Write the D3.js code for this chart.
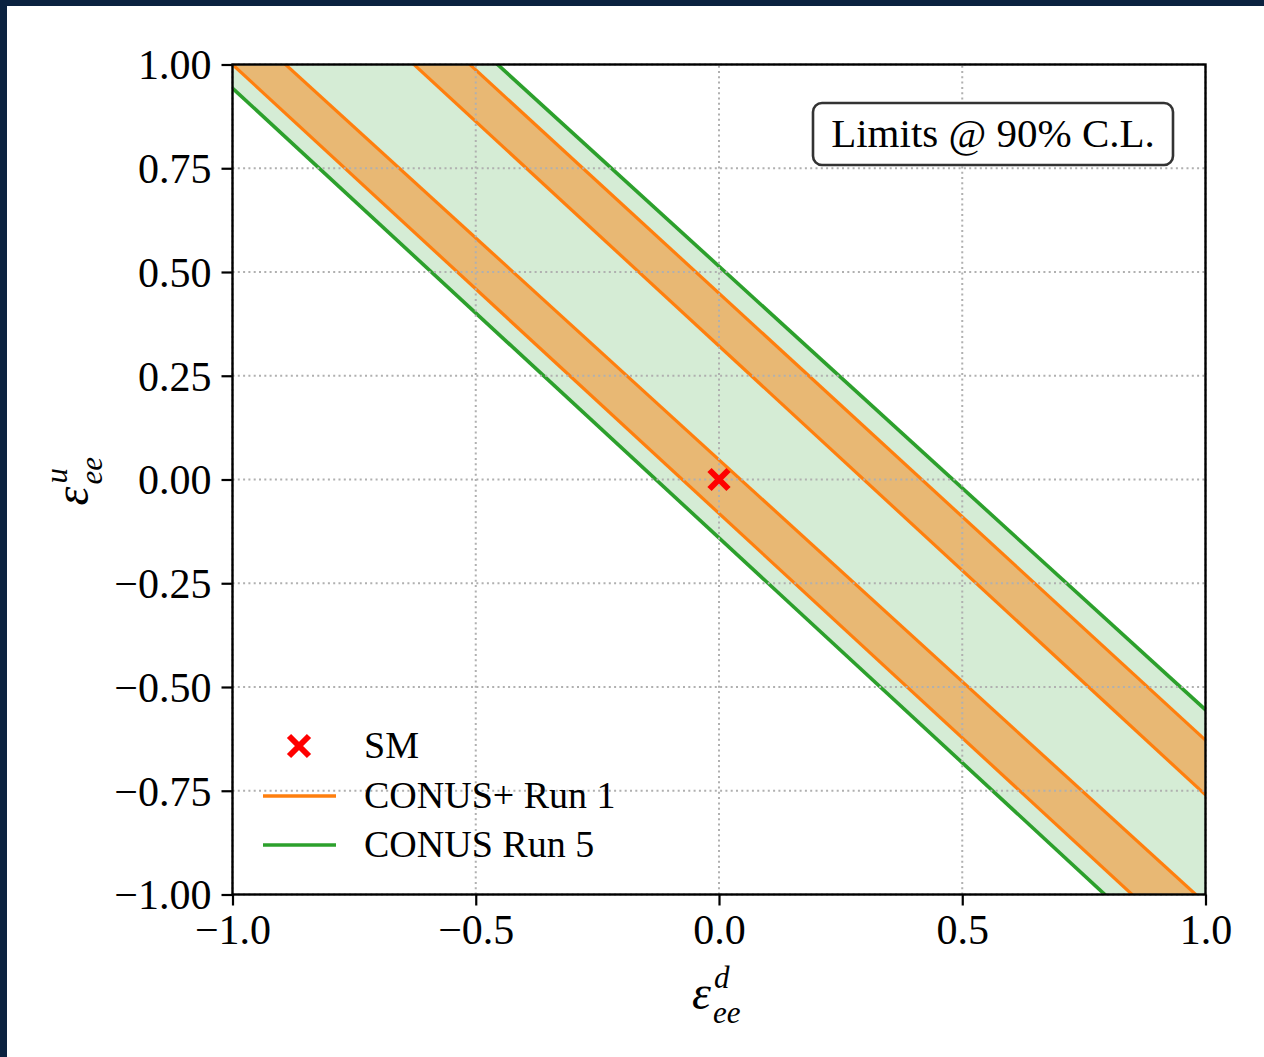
<!DOCTYPE html>
<html><head><meta charset="utf-8">
<script src="https://cdn.jsdelivr.net/npm/d3@7"></script>
<style>
html,body{margin:0;padding:0;background:#0b2240;}
svg{display:block;}
</style></head>
<body>
<svg id="c" width="1264" height="1057"></svg>
<script>
// ---- data ----
const xTicks = [-1.0, -0.5, 0.0, 0.5, 1.0];
const xTickLabels = ["\u22121.0", "\u22120.5", "0.0", "0.5", "1.0"];
const yTicks = [-1.0, -0.75, -0.5, -0.25, 0.0, 0.25, 0.5, 0.75, 1.0];
const yTickLabels = ["\u22121.00", "\u22120.75", "\u22120.50", "\u22120.25", "0.00", "0.25", "0.50", "0.75", "1.00"];
// band edges: each edge as two points [eps_d, eps_u]
const orangeBandLower = [[[-1.0, 1.0], [0.849, -1.0]], [[-0.891, 1.0], [0.980, -1.0]]];
const orangeBandUpper = [[[-0.627, 1.0], [1.0, -0.760]], [[-0.512, 1.0], [1.0, -0.628]]];
const greenBand = [[[-1.0, 0.943], [0.793, -1.0]], [[-0.455, 1.0], [1.0, -0.555]]];
const smPoint = [0.0, 0.0];
const legendLabels = ["SM", "CONUS+ Run 1", "CONUS Run 5"];
const boxText = "Limits @ 90% C.L.";

// ---- drawing ----
const svg = d3.select("#c");
svg.append("rect").attr("x", 7).attr("y", 6).attr("width", 1257).attr("height", 1051).attr("fill", "#fff");

const x = d3.scaleLinear().domain([-1, 1]).range([232.5, 1205.5]);
const y = d3.scaleLinear().domain([-1, 1]).range([894.5, 64.5]);
const FONT = "'Liberation Serif', 'DejaVu Serif', serif";
const ORANGE = "#ff7f0e", GREEN = "#2ca02c";

svg.append("clipPath").attr("id", "clip").append("rect")
  .attr("x", x(-1)).attr("y", y(1)).attr("width", x(1) - x(-1)).attr("height", y(-1) - y(1));

const plot = svg.append("g").attr("clip-path", "url(#clip)");

function lineFn(edge) {
  const [[d1, u1], [d2, u2]] = edge;
  const b = (u2 - u1) / (d2 - d1);
  return d => u1 + b * (d - d1);
}
const dExt = [-1.6, 1.6];
function bandPath(band) {
  const f1 = lineFn(band[0]), f2 = lineFn(band[1]);
  const pts = [[dExt[0], f1(dExt[0])], [dExt[1], f1(dExt[1])], [dExt[1], f2(dExt[1])], [dExt[0], f2(dExt[0])]];
  return d3.line().x(p => x(p[0])).y(p => y(p[1]))(pts) + "Z";
}
function edgePath(edge) {
  const f = lineFn(edge);
  return d3.line().x(p => x(p[0])).y(p => y(p[1]))([[dExt[0], f(dExt[0])], [dExt[1], f(dExt[1])]]);
}

plot.append("path").attr("d", bandPath(greenBand)).attr("fill", "#d5ecd5");
[orangeBandLower, orangeBandUpper].forEach(b => {
  plot.append("path").attr("d", bandPath(b)).attr("fill", "#e8b874");
});

// grid
const grid = svg.append("g");
xTicks.forEach(t => grid.append("line").attr("x1", x(t)).attr("x2", x(t)).attr("y1", y(-1)).attr("y2", y(1))
  .attr("stroke", "#b0b0b0").attr("stroke-width", 2).attr("stroke-dasharray", "2,3.3"));
yTicks.forEach(t => grid.append("line").attr("y1", y(t)).attr("y2", y(t)).attr("x1", x(-1)).attr("x2", x(1))
  .attr("stroke", "#b0b0b0").attr("stroke-width", 2).attr("stroke-dasharray", "2,3.3"));

// edges
greenBand.forEach(e => plot.append("path").attr("d", edgePath(e)).attr("fill", "none").attr("stroke", GREEN).attr("stroke-width", 3.6));
[...orangeBandLower, ...orangeBandUpper].forEach(e => plot.append("path").attr("d", edgePath(e)).attr("fill", "none").attr("stroke", ORANGE).attr("stroke-width", 3.2));

// SM marker
function xMarker(g, cx, cy, s) {
  g.append("path").attr("d", `M${cx - s},${cy - s}L${cx + s},${cy + s}M${cx - s},${cy + s}L${cx + s},${cy - s}`)
    .attr("stroke", "red").attr("stroke-width", 6).attr("fill", "none");
}
xMarker(svg, x(smPoint[0]), y(smPoint[1]), 9.5);

// axes
const xAxis = d3.axisBottom(x).tickValues(xTicks).tickFormat((d, i) => xTickLabels[i]).tickSize(11).tickPadding(7);
const yAxis = d3.axisLeft(y).tickValues(yTicks).tickFormat((d, i) => yTickLabels[i]).tickSize(11).tickPadding(10);
const gx = svg.append("g").attr("transform", `translate(0,${y(-1)})`).call(xAxis);
const gy = svg.append("g").attr("transform", `translate(${x(-1)},0)`).call(yAxis);
[gx, gy].forEach(g => {
  g.select(".domain").remove();
  g.selectAll(".tick line").attr("stroke", "#000").attr("stroke-width", 2.2);
  g.selectAll("text").attr("font-family", FONT).attr("font-size", 42).attr("fill", "#000");
});
gy.selectAll("text").attr("dy", "0.34em");
gx.selectAll("text").attr("dy", "0.75em");

// frame
svg.append("rect").attr("x", x(-1)).attr("y", y(1)).attr("width", x(1) - x(-1)).attr("height", y(-1) - y(1))
  .attr("fill", "none").attr("stroke", "#000").attr("stroke-width", 2.4);

// axis labels (epsilon with sub/superscript as separate texts)
function epsLabel(g, sup) {
  const common = t => t.attr("font-family", FONT).attr("font-style", "italic").attr("fill", "#000");
  common(g.append("text").attr("x", 0).attr("y", 0).attr("font-size", 48).text("\u03b5"));
  common(g.append("text").attr("x", 22).attr("y", -21).attr("font-size", 31).text(sup));
  common(g.append("text").attr("x", 21).attr("y", 14).attr("font-size", 31).text("ee"));
}
epsLabel(svg.append("g").attr("transform", `translate(${x(0) - 27},1009)`), "d");
epsLabel(svg.append("g").attr("transform", `translate(88,${y(0) + 26}) rotate(-90)`), "u");

// text box
const bx = 813, by = 103, bw = 360, bh = 62;
svg.append("rect").attr("x", bx).attr("y", by).attr("width", bw).attr("height", bh).attr("rx", 9).attr("ry", 9)
  .attr("fill", "#fff").attr("stroke", "#333").attr("stroke-width", 2.6);
svg.append("text").attr("x", bx + bw / 2).attr("y", by + bh / 2 + 13).attr("text-anchor", "middle")
  .attr("font-family", FONT).attr("font-size", 41).attr("fill", "#000").text(boxText);

// legend
const lg = svg.append("g");
const ly = [746, 796, 845];
xMarker(lg, 299, ly[0], 10);
lg.append("line").attr("x1", 263).attr("x2", 336).attr("y1", ly[1]).attr("y2", ly[1]).attr("stroke", ORANGE).attr("stroke-width", 3.6);
lg.append("line").attr("x1", 263).attr("x2", 336).attr("y1", ly[2]).attr("y2", ly[2]).attr("stroke", GREEN).attr("stroke-width", 3.6);
legendLabels.forEach((l, i) => lg.append("text").attr("x", 364).attr("y", ly[i] + 12)
  .attr("font-family", FONT).attr("font-size", 38).attr("fill", "#000").text(l));
</script>
</body></html>
